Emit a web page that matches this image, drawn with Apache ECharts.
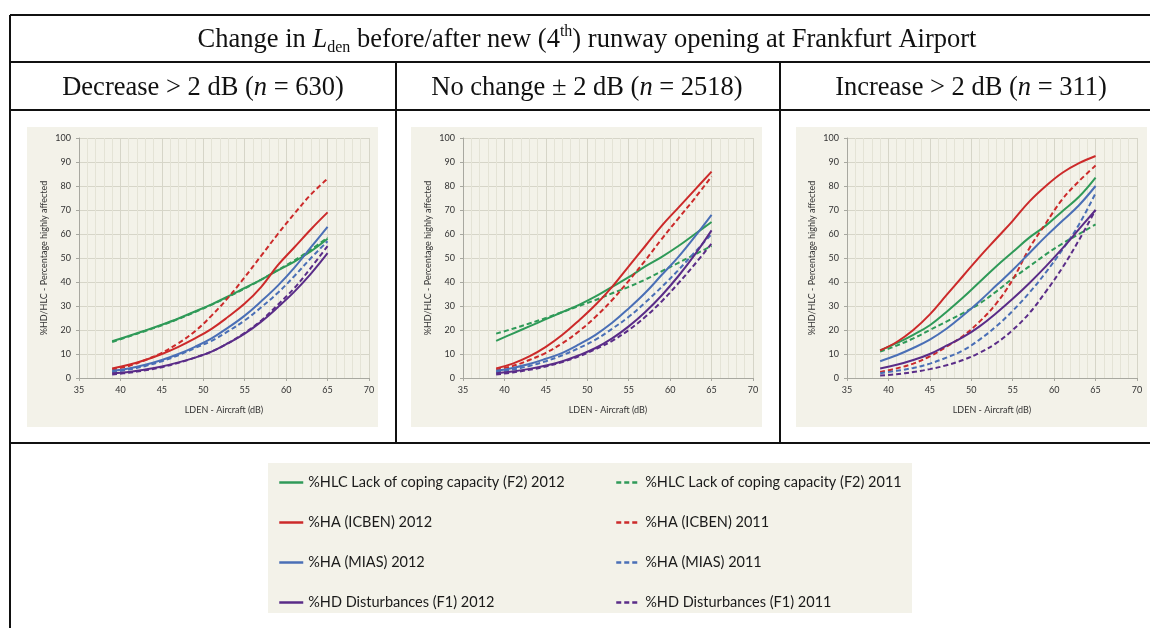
<!DOCTYPE html>
<html><head><meta charset="utf-8">
<script src="https://cdn.jsdelivr.net/npm/echarts@6/dist/echarts.min.js"></script>
<style>html,body{margin:0;padding:0;background:#fff}#c{width:1150px;height:628px}</style>
</head><body><div id="c"></div>
<script>
// ---- data ----
const xValues = [39,41,43,45,47,49,51,53,55,57,59,61,63,65];
const panelTitles = ['Decrease > 2 dB', 'No change \u00b1 2 dB', 'Increase > 2 dB'];
const panelN = [630, 2518, 311];
const seriesNames = [
  '%HLC Lack of coping capacity (F2) 2012', '%HLC Lack of coping capacity (F2) 2011',
  '%HA (ICBEN) 2012', '%HA (ICBEN) 2011',
  '%HA (MIAS) 2012', '%HA (MIAS) 2011',
  '%HD Disturbances (F1) 2012', '%HD Disturbances (F1) 2011'
];
// Panel 1: Decrease > 2 dB
const dec_hlc2012 = [15.3,17.5,19.8,22.2,24.8,27.7,30.7,34,37.5,41,44.8,48.5,52.8,58];
const dec_hlc2011 = [15,17.3,19.6,22,24.6,27.5,30.5,33.8,37.3,41,45,49,53.5,58.5];
const dec_icb2012 = [4,5.5,7.5,10,13,16.5,20.5,25.5,31,38,47,54.5,62,69];
const dec_icb2011 = [3.5,5,7.5,10.5,14.5,19.5,26,33.5,42,51,60,68.5,76.5,83];
const dec_mias2012 = [3,4,5.5,7.5,10,13,16.5,21,26,32,38.5,46,54.5,63];
const dec_mias2011 = [2.5,3.5,5,7,9.5,12.5,15.5,19.5,24,29.5,35.5,42.5,50,57];
const dec_hd2012 = [2,2.5,3.5,4.8,6.5,8.5,11,14.5,18.5,23.5,29.5,36,43.5,52];
const dec_hd2011 = [1.5,2.2,3.2,4.5,6.3,8.5,11,14.5,18.8,24,30.5,37.5,46,55];
// Panel 2: No change
const nc_hlc2012 = [15.5,18.5,21.5,24.5,27.5,30.5,34,38,42,46.5,50.5,55,60,65];
const nc_hlc2011 = [18.5,20.5,22.7,25,27.5,30,32.5,35.3,38,41,44.5,48,51.5,55];
const nc_icb2012 = [4,6,9,13,18,24,30.5,38,46.5,55,63.5,71,78.5,86];
const nc_icb2011 = [3.5,5,7.5,10.5,14.5,19.5,25.5,32.5,40.5,49,58,66.5,75,84];
const nc_mias2012 = [3,4.2,5.8,8,10.5,14,18,23,29,35.5,43,50.5,59,68];
const nc_mias2011 = [2.5,3.5,5,7,9.5,12.5,16,20.5,25.5,31.5,38,45,52.5,60];
const nc_hd2012 = [2,2.7,3.8,5.2,7,9.5,12.5,16.5,21.5,27.5,34.5,42.5,51.5,61.5];
const nc_hd2011 = [1.5,2.3,3.4,4.8,6.7,9,12,15.5,20,25.5,32,39.5,47.5,56];
// Panel 3: Increase > 2 dB
const inc_hlc2012 = [11.5,14.5,18,22,27.5,33.5,40,46.5,52.5,58.5,63.5,69.5,75.5,83.5];
const inc_hlc2011 = [11,13.5,16.5,20,23.5,27,31,36,41.5,46.5,51.5,56,60,64];
const inc_icb2012 = [11.5,15,20,26.5,34.5,42.5,50.5,58,65.5,73.5,80,85.5,89.5,92.5];
const inc_icb2011 = [2.5,4,6,9,13,17.5,23.5,31,41,54,64.5,74.5,82,88.5];
const inc_mias2012 = [7,9.5,12.5,16,20.5,26,32,38.5,45,52,59,65.5,72,80];
const inc_mias2011 = [2,3,4.2,6,8.5,11.5,16,21.5,28,35.5,44,53.5,64,77];
const inc_hd2012 = [4,5.5,7.5,10,13.5,17,21.5,27,33,39.5,46.5,54,62,70];
const inc_hd2011 = [1,1.6,2.5,3.7,5.3,7.5,10.5,14.5,20,27,36,46,57.5,70];

const panels = [
  [dec_hlc2012,dec_hlc2011,dec_icb2012,dec_icb2011,dec_mias2012,dec_mias2011,dec_hd2012,dec_hd2011],
  [nc_hlc2012,nc_hlc2011,nc_icb2012,nc_icb2011,nc_mias2012,nc_mias2011,nc_hd2012,nc_hd2011],
  [inc_hlc2012,inc_hlc2011,inc_icb2012,inc_icb2011,inc_mias2012,inc_mias2011,inc_hd2012,inc_hd2011]
];
const xTicks = {min:35, max:70, interval:5};
const yTicks = {min:0, max:100, interval:10};

// ---- styling ----
const colors = ['#2f9a58','#2f9a58','#cc2a2a','#cc2a2a','#4a6fb6','#4a6fb6','#5a2c88','#5a2c88'];
const beige = '#f3f2e9';
const gridLefts = [79, 463, 847];
const gridW = 290;
const bgLefts = [27, 411, 796];
const subCenters = [203, 587, 971];
const lab = {fontFamily:'Lato', fontSize:9, color:'#333'};

const grids = [], xAxes = [], yAxes = [], series = [];
panels.forEach((p, i) => {
  grids.push({left: gridLefts[i], top: 138, width: gridW, height: 240});
  xAxes.push({type:'value', gridIndex:i, min:xTicks.min, max:xTicks.max, interval:xTicks.interval,
    name:'LDEN - Aircraft (dB)', nameLocation:'middle', nameGap:28,
    nameTextStyle:{fontFamily:'Lato', fontSize:9, color:'#333'},
    axisLine:{show:true, lineStyle:{color:'#a8a8a0'}}, axisTick:{show:true, length:3, lineStyle:{color:'#a8a8a0'}},
    axisLabel:{...lab, margin:8},
    splitLine:{show:true, lineStyle:{color:'#d6d5c8', width:1}},
    minorTick:{show:false, splitNumber:5},
    minorSplitLine:{show:true, lineStyle:{color:'#e4e3d6', width:1}}
  });
  yAxes.push({type:'value', gridIndex:i, min:yTicks.min, max:yTicks.max, interval:yTicks.interval,
    name:'%HD/HLC - Percentage highly affected', nameLocation:'middle', nameGap:30, nameRotate:90,
    nameTextStyle:{fontFamily:'Lato', fontSize:9, color:'#333'},
    axisLine:{show:true, lineStyle:{color:'#a8a8a0'}}, axisTick:{show:true, length:3, lineStyle:{color:'#a8a8a0'}},
    axisLabel:{...lab, margin:8},
    splitLine:{show:true, lineStyle:{color:'#d6d5c8', width:1}}
  });
  p.forEach((vals, k) => {
    series.push({type:'line', name:seriesNames[k], xAxisIndex:i, yAxisIndex:i,
      data:xValues.map((x, j) => [x, vals[j]]), smooth:0.4, symbol:'none', silent:true,
      lineStyle:{color:colors[k], width:2, type:(k % 2 === 1) ? [5,3] : 'solid'},
      itemStyle:{color:colors[k]}, z: 3});
  });
});

const legText = {fontFamily:'Lato', fontSize:14.5, color:'#1a1a1a', lineHeight:14};
const legends = [0,1].map(c => ({
  orient:'vertical', left: c === 0 ? 278 : 615, top: 475, padding:0,
  data: seriesNames.filter((_, k) => k % 2 === c),
  itemWidth:24, itemHeight:14, itemGap:25, textStyle:legText, selectedMode:false,
  itemStyle:{opacity:0}, lineStyle:{width:2.5}
}));

const black = {stroke:'#111', lineWidth:2};
const serif = 'Liberation Serif, Times New Roman, serif';
const graphic = [];
bgLefts.forEach(l => graphic.push({type:'rect', shape:{x:l, y:127, width:351, height:300}, style:{fill:beige}, z:-10, silent:true}));
graphic.push({type:'rect', shape:{x:268, y:463, width:644, height:150}, style:{fill:beige}, z:-10, silent:true});
// table lines
[[10,15,1150,15],[10,62,1150,62],[10,110,1150,110],[10,443,1150,443],[10,15,10,628],[396,62,396,443],[780,62,780,443]]
  .forEach(s => graphic.push({type:'line', shape:{x1:s[0], y1:s[1], x2:s[2], y2:s[3]}, style:black, z:10, silent:true}));
// title
graphic.push({type:'text', x:587, y:40, z:10, silent:true, style:{
  text:'{m|Change in }{i|L}{s|den}{m| before/after new (4}{u|th}{m|) runway opening at Frankfurt Airport}',
  align:'center', verticalAlign:'middle',
  rich:{
    m:{fontFamily:serif, fontSize:26.5, lineHeight:32, fill:'#111'},
    i:{fontFamily:serif, fontSize:26.5, lineHeight:32, fontStyle:'italic', fill:'#111'},
    s:{fontFamily:serif, fontSize:16, lineHeight:16, verticalAlign:'bottom', fill:'#111'},
    u:{fontFamily:serif, fontSize:16, lineHeight:16, verticalAlign:'top', fill:'#111'}
  }}});
panelTitles.forEach((t, i) => {
  graphic.push({type:'text', x:subCenters[i], y:88, z:10, silent:true, style:{
    text:'{m|' + t + ' (}{i|n}{m| = ' + panelN[i] + ')}',
    align:'center', verticalAlign:'middle',
    rich:{
      m:{fontFamily:serif, fontSize:26.5, lineHeight:32, fill:'#111'},
      i:{fontFamily:serif, fontSize:26.5, lineHeight:32, fontStyle:'italic', fill:'#111'}
    }}});
});

const chart = echarts.init(document.getElementById('c'));
chart.setOption({
  backgroundColor:'#fff', animation:false,
  grid:grids, xAxis:xAxes, yAxis:yAxes, series:series, legend:legends, graphic:graphic
});
</script></body></html>
